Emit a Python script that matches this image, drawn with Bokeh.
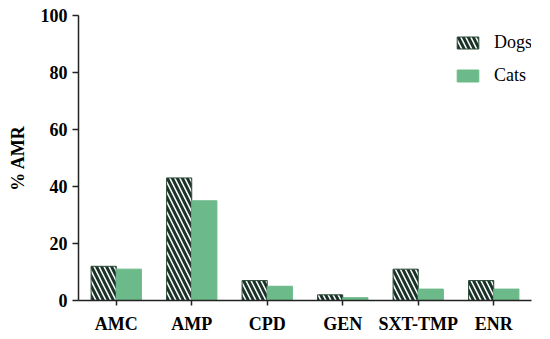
from bokeh.plotting import figure
from bokeh.models import ColumnDataSource, FactorRange, Legend, LegendItem
from bokeh.transform import dodge
from bokeh.embed import file_html
from bokeh.resources import INLINE

categories = ["AMC", "AMP", "CPD", "GEN", "SXT-TMP", "ENR"]
dogs = [12, 43, 7, 2, 11, 7]
cats = [11, 35, 5, 1, 4, 4]
y_ticks = [0, 20, 40, 60, 80, 100]

src = ColumnDataSource(dict(cat=categories, dogs=dogs, cats=cats))

p = figure(x_range=FactorRange(*categories, range_padding=0), y_range=(0, 100),
           width=534, height=336, output_backend="svg", toolbar_location=None,
           min_border_left=78, min_border_right=3, min_border_top=15, min_border_bottom=30)

r1 = p.vbar(x=dodge("cat", -0.1667, range=p.x_range), top="dogs", width=0.333, source=src,
            fill_color="white", line_color="#2a4a36", line_width=1,
            hatch_pattern="\\", hatch_color="#1b3328", hatch_scale=10, hatch_weight=3)
r2 = p.vbar(x=dodge("cat", 0.1667, range=p.x_range), top="cats", width=0.333, source=src,
            fill_color="#6cb98a", line_color="#6cb98a")

legend = Legend(items=[LegendItem(label="Dogs", renderers=[r1]),
                       LegendItem(label="Cats", renderers=[r2])],
                location=(376, 214), glyph_width=27, glyph_height=15, label_height=15,
                spacing=12, label_standoff=13, padding=0, margin=0,
                border_line_alpha=0, background_fill_alpha=0,
                label_text_font="Liberation Serif", label_text_font_size="18px",
                label_text_color="black")
p.add_layout(legend)

p.xgrid.visible = False
p.ygrid.visible = False
p.outline_line_color = None

for ax in (p.xaxis[0], p.yaxis[0]):
    ax.axis_line_color = "#222222"
    ax.axis_line_width = 1.5
    ax.major_tick_line_color = "#222222"
    ax.major_tick_line_width = 1.5
    ax.major_tick_out = 6
    ax.major_tick_in = 0
    ax.minor_tick_line_color = None
    ax.major_label_text_font = "Liberation Serif"
    ax.major_label_text_font_style = "bold"
    ax.major_label_text_font_size = "18px"
    ax.major_label_text_color = "black"

p.yaxis.ticker = y_ticks
p.yaxis.major_label_standoff = 5
p.yaxis.axis_label = "% AMR"
p.yaxis.axis_label_text_font = "Liberation Serif"
p.yaxis.axis_label_text_font_style = "bold"
p.yaxis.axis_label_text_font_size = "18px"
p.yaxis.axis_label_text_color = "black"
p.yaxis.axis_label_standoff = 10
p.xaxis.major_label_standoff = 8
p.xaxis.major_tick_out = 5

open("out.html", "w").write(file_html(p, INLINE))
